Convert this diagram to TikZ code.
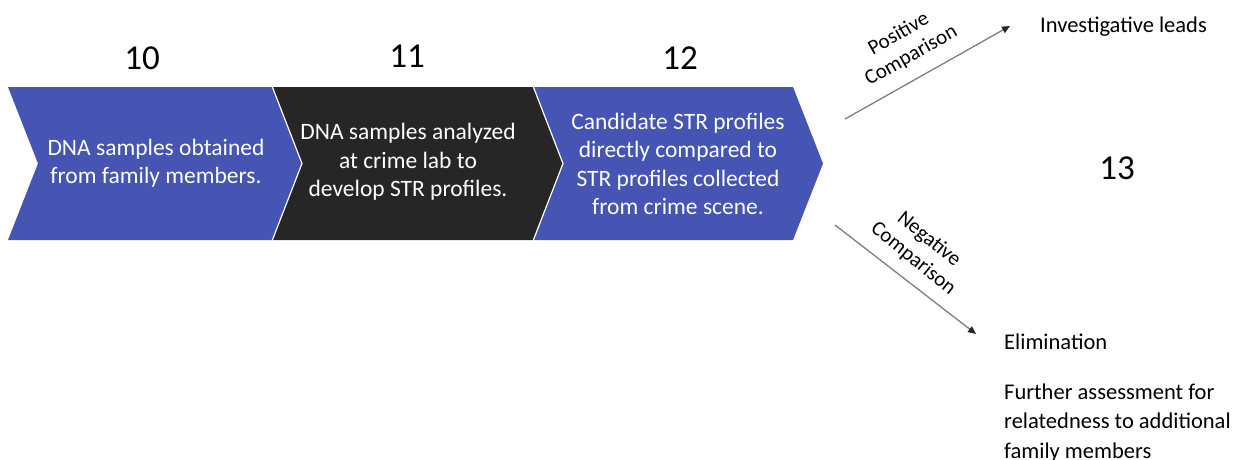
\documentclass[tikz,border=0pt]{standalone}
\usepackage{fontspec}
\setmainfont{Carlito}
\usetikzlibrary{arrows.meta}
\definecolor{chevblue}{HTML}{4654B4}
\definecolor{chevblack}{HTML}{262626}
\definecolor{arrgray}{HTML}{7F7F7F}
\tikzset{
  chev/.style={draw=white, line width=1.2pt, line join=miter},
  chevtext/.style={text=white, align=center, font=\fontsize{23.5}{28.5}\selectfont, inner sep=0pt},
  num/.style={font=\fontsize{35}{40}\selectfont, inner sep=0pt},
  lbl/.style={font=\fontsize{22.5}{29.5}\selectfont, inner sep=0pt, align=left},
  rotlbl/.style={font=\fontsize{21}{25}\selectfont, inner sep=0pt, align=center},
  conn/.style={draw=arrgray, line width=1.3pt, -{Triangle[length=8pt,width=7pt,color=black!85]}}
}
\begin{document}
\begin{tikzpicture}[x=1pt,y=-1pt]
\clip (0,0) rectangle (1238,459);
\useasboundingbox (0,0) rectangle (1238,459);
% chevrons
\fill[chevblue] (8,87) -- (272,87) -- (302,163.5) -- (272,240) -- (8,240) -- (38,163.5) -- cycle;
\fill[chevblack] (272,87) -- (533,87) -- (563,163.5) -- (533,240) -- (272,240) -- (302,163.5) -- cycle;
\fill[chevblue] (533,87) -- (793,87) -- (823,163.5) -- (793,240) -- (533,240) -- (563,163.5) -- cycle;
\draw[chev] (272,86) -- (302,163.5) -- (272,241);
\draw[chev] (533,86) -- (563,163.5) -- (533,241);
% texts
\node[chevtext] (t10) at (156,163) {DNA samples obtained\\from family members.};
\node[chevtext] (t11) at (408,162) {DNA samples analyzed\\at crime lab to\\develop STR profiles.};
\node[chevtext] (t12) at (678,164) {Candidate STR profiles\\directly compared to\\STR profiles collected\\from crime scene.};
\node[num] (n10) at (142,58) {10};
\node[num] (n11) at (407,56) {11};
\node[num] (n12) at (680,58) {12};
\node[num] (n13) at (1117,168) {13};
% outcomes
\node[lbl, anchor=west] (lead) at (1040,27) {Investigative leads};
\node[lbl, anchor=north west] (elim) at (1004,334) {Elimination\\[20pt]Further assessment for\\relatedness to additional\\family members};
% arrows
\coordinate (ps) at (845,119);
\coordinate (pe) at (1010,26);
\coordinate (ns) at (835,225);
\coordinate (ne) at (976,334);
\draw[conn] (ps) -- (pe);
\draw[conn] (ns) -- (ne);
\node[rotlbl, rotate=29.5] (poslbl) at (905,45) {Positive\\Comparison};
\node[rotlbl, rotate=-39] (neglbl) at (921,249) {Negative\\Comparison};
\end{tikzpicture}
\end{document}
